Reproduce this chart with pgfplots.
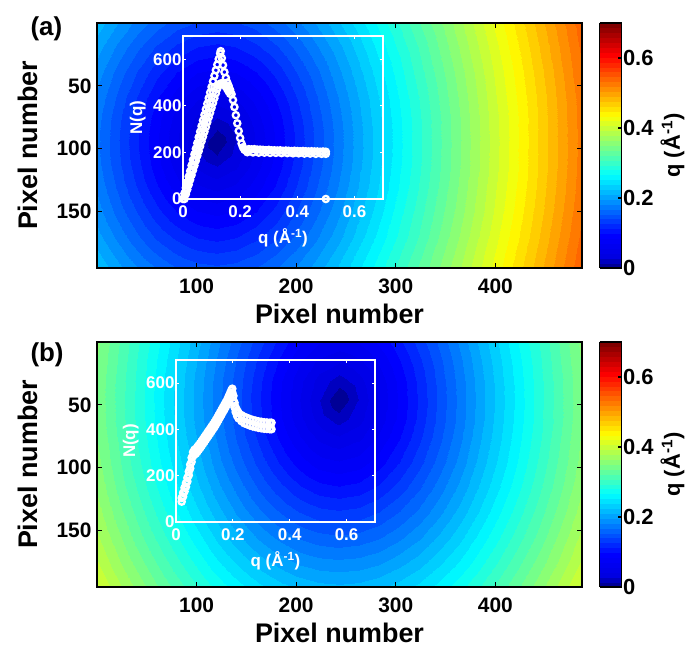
\documentclass[border=0pt]{standalone}
\usepackage{fontspec}
\setmainfont{Liberation Sans}
\usepackage{pgfplots}
\usepackage{pgfplotstable}
\pgfplotsset{compat=1.18}

\newcommand\tfont{\fontsize{21}{23}\selectfont\bfseries}
\newcommand\lfont{\fontsize{27}{30}\selectfont\bfseries}
\newcommand\cfont{\fontsize{22}{24}\selectfont\bfseries}
\newcommand\ifont{\fontsize{17}{19}\selectfont\bfseries}
\newcommand\pfont{\fontsize{26}{28}\selectfont\bfseries}

\pgfplotsset{
  colormap={myjet}{rgb255(0cm)=(0,0,150) rgb255(0.3cm)=(0,0,225) rgb255(1cm)=(0,0,255)
    rgb255(3cm)=(0,255,255) rgb255(5cm)=(255,255,0) rgb255(7cm)=(255,0,0) rgb255(8cm)=(128,0,0)},
  colormap={bands}{samples of colormap=(50 of myjet)},
  /pgf/number format/assume math mode=true,
  mainax/.style={
    scale only axis, width=485bp, height=245bp, anchor=north west,
    xmin=0, xmax=487, ymin=0, ymax=195, y dir=reverse,
    xtick={100,200,300,400}, ytick={50,100,150},
    tick align=inside, major tick length=5bp,
    tick style={black, line width=1.2bp},
    axis line style={line width=1.6bp},
    axis on top,
    ticklabel style={font=\tfont},
    xticklabel style={yshift=-7bp},
    yticklabel style={xshift=-2bp},
    xlabel={Pixel number}, ylabel={Pixel number},
    label style={font=\lfont},
    xlabel style={at={(axis description cs:0.5,-0.228)}, anchor=base},
    ylabel style={at={(axis description cs:-0.1237,0.5)}, anchor=base},
    colormap name=bands, colormap access=piecewise constant,
    point meta min=0, point meta max=0.7,
    colorbar,
    colorbar style={
      at={(parent axis.north east)}, anchor=north west, xshift=9bp,
      width=22bp,
      ytick={0,0.2,0.4,0.6}, ytick pos=right, yticklabel pos=right,
      tick align=inside, major tick length=4bp,
      tick style={black, line width=1.2bp},
      axis line style={line width=1.6bp},
      yticklabel style={font=\cfont, xshift=-2bp},
      ylabel={q (Å\textsuperscript{-1})},
      ylabel style={font=\cfont, at={(axis description cs:3.65,0.5)}, anchor=base},
    },
  },
  inset/.style={
    scale only axis, anchor=north west,
    xmin=0, xmax=0.7, ymin=0, ymax=700,
    xtick={0,0.2,0.4,0.6}, ytick={0,200,400,600},
    axis line style={white, line width=1.3bp},
    tick style={white, line width=1bp}, tick align=inside, major tick length=3bp,
    ticklabel style={font=\ifont, text=white},
    xticklabel style={yshift=-3bp}, yticklabel style={xshift=2bp},
    xlabel={q (Å\textsuperscript{-1})}, ylabel={N(q)},
    label style={font=\ifont, text=white},
    xlabel style={at={(axis description cs:0.5,-0.276)}, anchor=base},
    ylabel style={at={(axis description cs:-0.205,0.5)}, anchor=base},
    clip=false,
  },
  dots/.style={only marks, mark=o, mark size=3.1bp, white, line width=2.3bp},
}

% q map of panel (a), x and y in pixels
\pgfplotstableread{
x y q
0 0 0.219
20 0 0.197
40 0 0.178
60 0 0.161
80 0 0.147
100 0 0.139
120 0 0.136
140 0 0.139
160 0 0.147
180 0 0.161
200 0 0.178
220 0 0.197
240 0 0.219
280 0 0.266
320 0 0.317
360 0 0.369
400 0 0.423
440 0 0.477
487 0 0.542
0 20 0.202
20 20 0.179
40 20 0.157
60 20 0.137
80 20 0.122
100 20 0.111
120 20 0.107
140 20 0.111
160 20 0.122
180 20 0.137
200 20 0.157
220 20 0.179
240 20 0.202
280 20 0.253
320 20 0.305
360 20 0.360
400 20 0.415
440 20 0.470
487 20 0.536
0 40 0.189
20 40 0.163
40 40 0.139
60 40 0.116
80 40 0.097
100 40 0.084
120 40 0.079
140 40 0.084
160 40 0.097
180 40 0.116
200 40 0.139
220 40 0.163
240 40 0.189
280 40 0.242
320 40 0.297
360 40 0.352
400 40 0.408
440 40 0.464
487 40 0.531
0 60 0.179
20 60 0.152
40 60 0.125
60 60 0.099
80 60 0.076
100 60 0.058
120 60 0.050
140 60 0.058
160 60 0.076
180 60 0.099
200 60 0.125
220 60 0.152
240 60 0.179
280 60 0.234
320 60 0.290
360 60 0.347
400 60 0.404
440 60 0.460
487 60 0.527
0 75 0.174
20 75 0.146
40 75 0.118
60 75 0.090
80 75 0.064
100 75 0.040
120 75 0.029
140 75 0.040
160 75 0.064
180 75 0.090
200 75 0.118
220 75 0.146
240 75 0.174
280 75 0.231
320 75 0.287
360 75 0.344
400 75 0.401
440 75 0.458
487 75 0.526
0 85 0.172
20 85 0.144
40 85 0.115
60 85 0.087
80 85 0.059
100 85 0.032
120 85 0.014
140 85 0.032
160 85 0.059
180 85 0.087
200 85 0.115
220 85 0.144
240 85 0.172
280 85 0.229
320 85 0.286
360 85 0.344
400 85 0.401
440 85 0.458
487 85 0.525
0 95 0.172
20 95 0.143
40 95 0.114
60 95 0.086
80 95 0.057
100 95 0.029
120 95 0.000
140 95 0.029
160 95 0.057
180 95 0.086
200 95 0.114
220 95 0.143
240 95 0.172
280 95 0.229
320 95 0.286
360 95 0.343
400 95 0.400
440 95 0.458
487 95 0.525
0 105 0.172
20 105 0.144
40 105 0.115
60 105 0.087
80 105 0.059
100 105 0.032
120 105 0.014
140 105 0.032
160 105 0.059
180 105 0.087
200 105 0.115
220 105 0.144
240 105 0.172
280 105 0.229
320 105 0.286
360 105 0.344
400 105 0.401
440 105 0.458
487 105 0.525
0 115 0.174
20 115 0.146
40 115 0.118
60 115 0.090
80 115 0.064
100 115 0.040
120 115 0.029
140 115 0.040
160 115 0.064
180 115 0.090
200 115 0.118
220 115 0.146
240 115 0.174
280 115 0.231
320 115 0.287
360 115 0.344
400 115 0.401
440 115 0.458
487 115 0.526
0 130 0.179
20 130 0.152
40 130 0.125
60 130 0.099
80 130 0.076
100 130 0.058
120 130 0.050
140 130 0.058
160 130 0.076
180 130 0.099
200 130 0.125
220 130 0.152
240 130 0.179
280 130 0.234
320 130 0.290
360 130 0.347
400 130 0.404
440 130 0.460
487 130 0.527
0 150 0.189
20 150 0.163
40 150 0.139
60 150 0.116
80 150 0.097
100 150 0.084
120 150 0.079
140 150 0.084
160 150 0.097
180 150 0.116
200 150 0.139
220 150 0.163
240 150 0.189
280 150 0.242
320 150 0.297
360 150 0.352
400 150 0.408
440 150 0.464
487 150 0.531
0 170 0.202
20 170 0.179
40 170 0.157
60 170 0.137
80 170 0.122
100 170 0.111
120 170 0.107
140 170 0.111
160 170 0.122
180 170 0.137
200 170 0.157
220 170 0.179
240 170 0.202
280 170 0.253
320 170 0.305
360 170 0.360
400 170 0.415
440 170 0.470
487 170 0.536
0 195 0.223
20 195 0.202
40 195 0.183
60 195 0.167
80 195 0.154
100 195 0.146
120 195 0.143
140 195 0.146
160 195 0.154
180 195 0.167
200 195 0.183
220 195 0.202
240 195 0.223
280 195 0.270
320 195 0.320
360 195 0.372
400 195 0.425
440 195 0.479
487 195 0.544
}\mapA

% q map of panel (b)
\pgfplotstableread{
x y q
0 0 0.354
23 0 0.321
43 0 0.293
63 0 0.266
83 0 0.238
103 0 0.211
123 0 0.184
143 0 0.157
163 0 0.132
183 0 0.108
203 0 0.087
223 0 0.072
243 0 0.066
263 0 0.072
283 0 0.087
303 0 0.108
323 0 0.132
343 0 0.157
363 0 0.184
383 0 0.211
403 0 0.238
423 0 0.266
443 0 0.293
463 0 0.321
487 0 0.355
0 16 0.350
23 16 0.318
43 16 0.289
63 16 0.261
83 16 0.233
103 16 0.205
123 16 0.177
143 16 0.149
163 16 0.122
183 16 0.096
203 16 0.072
223 16 0.052
243 16 0.043
263 16 0.052
283 16 0.072
303 16 0.096
323 16 0.122
343 16 0.149
363 16 0.177
383 16 0.205
403 16 0.233
423 16 0.261
443 16 0.289
463 16 0.318
487 16 0.352
0 31 0.348
23 31 0.315
43 31 0.287
63 31 0.258
83 31 0.230
103 31 0.201
123 31 0.173
143 31 0.145
163 31 0.116
183 31 0.088
203 31 0.061
223 31 0.036
243 31 0.021
263 31 0.036
283 31 0.061
303 31 0.088
323 31 0.116
343 31 0.145
363 31 0.173
383 31 0.201
403 31 0.230
423 31 0.258
443 31 0.287
463 31 0.315
487 31 0.350
0 46 0.347
23 46 0.315
43 46 0.286
63 46 0.257
83 46 0.229
103 46 0.200
123 46 0.172
143 46 0.143
163 46 0.114
183 46 0.086
203 46 0.057
223 46 0.029
243 46 0.000
263 46 0.029
283 46 0.057
303 46 0.086
323 46 0.114
343 46 0.143
363 46 0.172
383 46 0.200
403 46 0.229
423 46 0.257
443 46 0.286
463 46 0.315
487 46 0.349
0 61 0.348
23 61 0.315
43 61 0.287
63 61 0.258
83 61 0.230
103 61 0.201
123 61 0.173
143 61 0.145
163 61 0.116
183 61 0.088
203 61 0.061
223 61 0.036
243 61 0.021
263 61 0.036
283 61 0.061
303 61 0.088
323 61 0.116
343 61 0.145
363 61 0.173
383 61 0.201
403 61 0.230
423 61 0.258
443 61 0.287
463 61 0.315
487 61 0.350
0 76 0.350
23 76 0.318
43 76 0.289
63 76 0.261
83 76 0.233
103 76 0.205
123 76 0.177
143 76 0.149
163 76 0.122
183 76 0.096
203 76 0.072
223 76 0.052
243 76 0.043
263 76 0.052
283 76 0.072
303 76 0.096
323 76 0.122
343 76 0.149
363 76 0.177
383 76 0.205
403 76 0.233
423 76 0.261
443 76 0.289
463 76 0.318
487 76 0.352
0 96 0.355
23 96 0.323
43 96 0.295
63 96 0.267
83 96 0.240
103 96 0.213
123 96 0.186
143 96 0.160
163 96 0.135
183 96 0.112
203 96 0.092
223 96 0.077
243 96 0.072
263 96 0.077
283 96 0.092
303 96 0.112
323 96 0.135
343 96 0.160
363 96 0.186
383 96 0.213
403 96 0.240
423 96 0.267
443 96 0.295
463 96 0.323
487 96 0.356
0 116 0.362
23 116 0.330
43 116 0.303
63 116 0.276
83 116 0.250
103 116 0.224
123 116 0.199
143 116 0.175
163 116 0.152
183 116 0.132
203 116 0.115
223 116 0.104
243 116 0.100
263 116 0.104
283 116 0.115
303 116 0.132
323 116 0.152
343 116 0.175
363 116 0.199
383 116 0.224
403 116 0.250
423 116 0.276
443 116 0.303
463 116 0.330
487 116 0.363
0 136 0.371
23 136 0.340
43 136 0.314
63 136 0.288
83 136 0.263
103 136 0.238
123 136 0.215
143 136 0.192
163 136 0.172
183 136 0.155
203 136 0.141
223 136 0.132
243 136 0.129
263 136 0.132
283 136 0.141
303 136 0.155
323 136 0.172
343 136 0.192
363 136 0.215
383 136 0.238
403 136 0.263
423 136 0.288
443 136 0.314
463 136 0.340
487 136 0.372
0 156 0.381
23 156 0.352
43 156 0.326
63 156 0.302
83 156 0.278
103 156 0.255
123 156 0.233
143 156 0.213
163 156 0.194
183 156 0.179
203 156 0.167
223 156 0.160
243 156 0.157
263 156 0.160
283 156 0.167
303 156 0.179
323 156 0.194
343 156 0.213
363 156 0.233
383 156 0.255
403 156 0.278
423 156 0.302
443 156 0.326
463 156 0.352
487 156 0.383
0 176 0.394
23 176 0.365
43 176 0.341
63 176 0.318
83 176 0.295
103 176 0.273
123 176 0.253
143 176 0.235
163 176 0.218
183 176 0.205
203 176 0.194
223 176 0.188
243 176 0.186
263 176 0.188
283 176 0.194
303 176 0.205
323 176 0.218
343 176 0.235
363 176 0.253
383 176 0.273
403 176 0.295
423 176 0.318
443 176 0.341
463 176 0.365
487 176 0.395
0 195 0.408
23 195 0.380
43 195 0.357
63 195 0.334
83 195 0.313
103 195 0.292
123 195 0.274
143 195 0.257
163 195 0.242
183 195 0.230
203 195 0.221
223 195 0.215
243 195 0.213
263 195 0.215
283 195 0.221
303 195 0.230
323 195 0.242
343 195 0.257
363 195 0.274
383 195 0.292
403 195 0.313
423 195 0.334
443 195 0.357
463 195 0.380
487 195 0.409
}\mapB

% N(q) of panel (a)
\pgfplotstableread{
q N
0 0
0.005 24
0.01 48
0.015 72
0.02 96
0.025 120
0.03 144
0.035 168
0.04 192
0.045 216
0.05 240
0.055 265
0.06 289
0.065 313
0.07 337
0.075 361
0.08 385
0.085 409
0.09 433
0.095 457
0.1 481
0.105 505
0.11 529
0.115 553
0.12 577
0.125 601
0.13 625
0.132 635
0.01 34
0.015 57
0.02 79
0.025 101
0.03 124
0.035 146
0.04 168
0.045 191
0.05 213
0.055 235
0.06 258
0.065 280
0.07 302
0.075 325
0.08 347
0.085 369
0.09 392
0.095 414
0.1 436
0.105 459
0.11 481
0.005 0
0.01 21
0.015 41
0.02 62
0.025 83
0.03 103
0.035 124
0.04 144
0.045 165
0.05 186
0.055 206
0.06 227
0.065 248
0.07 268
0.075 289
0.08 309
0.085 330
0.09 351
0.095 371
0.1 392
0.105 413
0.11 433
0.115 454
0.12 474
0.125 488
0.13 495
0.135 497
0.14 495
0.145 490
0.15 482
0.155 472
0.16 462
0.165 452
0.136 605
0.14 575
0.145 545
0.15 520
0.155 500
0.16 485
0.165 468
0.17 450
0.175 425
0.18 395
0.185 360
0.19 325
0.195 292
0.2 262
0.205 238
0.21 222
0.215 212
0.22 208
0.23 214
0.24 213
0.25 214
0.26 212
0.27 212
0.28 211
0.29 210
0.30 211
0.31 209
0.32 209
0.33 208
0.34 209
0.35 207
0.36 208
0.37 207
0.38 206
0.39 207
0.40 206
0.41 205
0.42 206
0.43 205
0.44 204
0.45 205
0.46 204
0.47 204
0.48 203
0.49 204
0.50 203
0.225 201
0.245 200
0.265 199
0.285 199
0.305 198
0.325 198
0.345 197
0.365 197
0.385 196
0.405 196
0.425 195
0.445 195
0.465 194
0.485 194
0.50 194
0.50 0
}\nqA

% N(q) of panel (b): upper and lower edge of the band
\pgfplotstableread{
q hi lo
0.020 104 88
0.025 126 110
0.030 148 132
0.035 168 152
0.040 191 175
0.045 218 202
0.050 248 232
0.055 278 260
0.060 302 284
0.065 312 292
0.070 316 296
0.075 324 304
0.080 332 312
0.085 340 320
0.090 349 329
0.095 358 338
0.100 367 347
0.105 376 356
0.110 385 365
0.115 394 374
0.120 403 383
0.125 412 392
0.130 421 401
0.135 430 410
0.140 440 420
0.145 451 431
0.150 462 442
0.155 473 453
0.160 484 464
0.165 495 475
0.170 506 486
0.175 517 497
0.180 528 508
0.185 542 522
0.190 556 538
0.195 570 552
0.198 576 560
0.202 545 525
0.206 515 495
0.210 495 475
0.215 482 458
0.220 472 448
0.230 462 436
0.240 455 427
0.250 450 422
0.260 445 417
0.270 441 413
0.280 438 410
0.290 435 407
0.300 433 405
0.310 431 403
0.320 430 402
0.330 429 401
0.336 429 401
}\nqB

\begin{document}
\begin{tikzpicture}
\path[use as bounding box] (0,0) rectangle (689bp,-648bp);

% ---- panel (a)
\begin{axis}[mainax, at={(97bp,-23bp)}]
\addplot[surf, shader=interp, mesh/cols=19, point meta=explicit]
  table[x=x, y=y, meta=q] {\mapA};
\end{axis}
\begin{axis}[inset, at={(183bp,-36bp)}, width=200bp, height=163bp]
\addplot[dots] table[x=q, y=N] {\nqA};
\end{axis}
\node[font=\pfont, anchor=base west] at (27bp,-35bp) {(a)};

% ---- panel (b)
\begin{axis}[mainax, at={(97bp,-342bp)}]
\addplot[surf, shader=interp, mesh/cols=25, point meta=explicit]
  table[x=x, y=y, meta=q] {\mapB};
\end{axis}
\begin{axis}[inset, at={(176bp,-360bp)}, width=199bp, height=162bp]
\addplot[dots] table[x=q, y=hi] {\nqB};
\addplot[dots] table[x=q, y=lo] {\nqB};
\end{axis}
\node[font=\pfont, anchor=base west] at (27bp,-361bp) {(b)};
\end{tikzpicture}
\end{document}
